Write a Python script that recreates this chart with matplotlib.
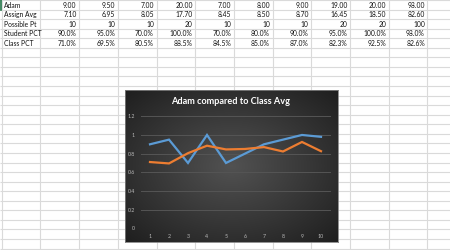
import numpy as np
import matplotlib
matplotlib.use('Agg')
import matplotlib.pyplot as plt

# spreadsheet rows
row_labels = ['Adam', 'Assign Avg', 'Possible Pt', 'Student PCT', 'Class PCT']
adam = ['9.00', '9.50', '7.00', '20.00', '7.00', '8.00', '9.00', '19.00', '20.00', '98.00']
assign_avg = ['7.10', '6.95', '8.05', '17.70', '8.45', '8.50', '8.70', '16.45', '18.50', '82.60']
possible = ['10', '10', '10', '20', '10', '10', '10', '20', '20', '100']
student_pct_txt = ['90.0%', '95.0%', '70.0%', '100.0%', '70.0%', '80.0%', '90.0%', '95.0%', '100.0%', '98.0%']
class_pct_txt = ['71.0%', '69.5%', '80.5%', '88.5%', '84.5%', '85.0%', '87.0%', '82.3%', '92.5%', '82.6%']

# chart series
assignments = [1, 2, 3, 4, 5, 6, 7, 8, 9, 10]
student_pct = [0.90, 0.95, 0.70, 1.00, 0.70, 0.80, 0.90, 0.95, 1.00, 0.98]
class_pct = [0.71, 0.695, 0.805, 0.885, 0.845, 0.85, 0.87, 0.823, 0.925, 0.826]

plt.rcParams['font.family'] = ['Lato', 'DejaVu Sans']

W, H = 450, 250
fig = plt.figure(figsize=(4.5, 2.5), dpi=100)
fig.patch.set_facecolor('white')

# sheet layer in pixel coords
sheet = fig.add_axes([0, 0, 1, 1])
sheet.set_xlim(0, W)
sheet.set_ylim(H, 0)
sheet.axis('off')

col_w = 38.7
row_h = 9.56
col_edges = 1.7 + col_w * np.arange(13)
row_edges = row_h * np.arange(28)
sheet.vlines(col_edges, 0, H, color='#dadada', lw=0.8)
sheet.hlines(row_edges, 0, W, color='#dadada', lw=0.8)
sheet.plot([1.2, 1.2], [0, row_h], color='#217346', lw=1.2)

table = [adam, assign_avg, possible, student_pct_txt, class_pct_txt]
for i, (lab, vals) in enumerate(zip(row_labels, table)):
    yc = row_h * i + row_h / 2 + 0.3
    sheet.text(col_edges[0] + 2, yc, lab, fontsize=4.9, va='center', ha='left', color='#111111')
    for j, v in enumerate(vals):
        sheet.text(col_edges[j + 2] - 2.5, yc, v, fontsize=4.9, va='center', ha='right', color='#111111')

# chart box with radial gradient
bx0, bx1, by0, by1 = 125, 338, 90, 242
box = fig.add_axes([bx0 / W, (H - by1) / H, (bx1 - bx0) / W, (by1 - by0) / H])
yy, xx = np.mgrid[-1:1:200j, -1:1:300j]
r = np.sqrt(xx ** 2 + yy ** 2) / np.sqrt(2)
grad = 0.32 - 0.2 * r
box.imshow(np.dstack([grad, grad, grad]), aspect='auto', extent=[0, 1, 0, 1])
box.set_xticks([])
box.set_yticks([])
for s in box.spines.values():
    s.set_color('#7f7f7f')
    s.set_linewidth(0.6)

fig.text(231 / W, (H - 101.5) / H, 'Adam compared to Class Avg', color='white',
         fontsize=6.6, fontweight='bold', ha='center', va='center')

# plot area
px0, px1, py_top, py_bot = 140.5, 330.5, 116.3, 228.3
ax = fig.add_axes([px0 / W, (H - py_bot) / H, (px1 - px0) / W, (py_bot - py_top) / H])
ax.patch.set_alpha(0)
ax.plot(assignments, student_pct, color='#5b9bd5', lw=1.6, solid_joinstyle='miter')
ax.plot(assignments, class_pct, color='#ed7d31', lw=1.6, solid_joinstyle='miter')
ax.set_xlim(0.5, 10.5)
ax.set_ylim(0, 1.2)
ax.set_xticks(assignments)
ax.set_xticklabels([str(a) for a in assignments])
ax.set_yticks([0, 0.2, 0.4, 0.6, 0.8, 1.0, 1.2])
ax.set_yticklabels(['0', '0.2', '0.4', '0.6', '0.8', '1', '1.2'])
ax.yaxis.grid(True, color='#555555', lw=0.7)
ax.set_axisbelow(True)
ax.tick_params(length=0, labelsize=3.8, colors='#b8b8b8', pad=4)
for s in ax.spines.values():
    s.set_visible(False)

fig.savefig('out.png', dpi=100)
